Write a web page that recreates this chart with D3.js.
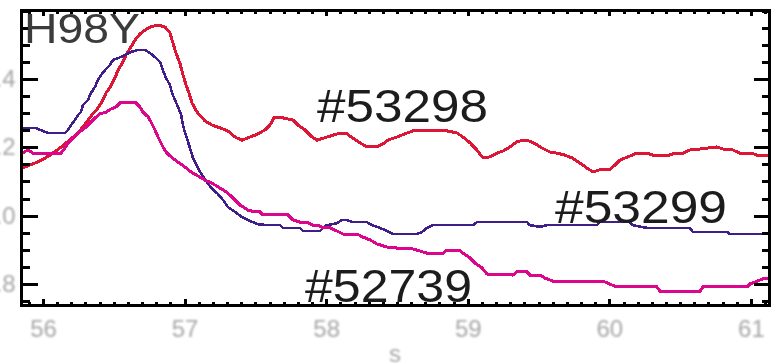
<!DOCTYPE html>
<html>
<head>
<meta charset="utf-8">
<script src="https://cdn.jsdelivr.net/npm/d3@7"></script>
<style>
  html, body { margin: 0; padding: 0; background: #fff; }
  svg { display: block; }
</style>
</head>
<body>
<svg id="chart" width="777" height="363"></svg>
<script>
// Shot traces of s against the signal, three discharges
const red53298X = [55.852,55.944,55.993,56.049,56.12,56.177,56.24,56.297,56.346,56.388,56.424,56.445,56.48,56.508,56.53,56.565,56.586,56.621,56.65,56.685,56.72,56.756,56.812,56.862,56.897,56.918,56.939,56.968,56.989,57.01,57.031,57.052,57.088,57.144,57.194,57.25,57.306,57.356,57.405,57.462,57.518,57.568,57.603,57.631,57.695,57.766,57.801,57.85,57.9,57.935,58.006,58.076,58.147,58.189,58.239,58.288,58.359,58.401,58.436,58.5,58.571,58.613,58.733,58.853,58.924,58.966,59.016,59.065,59.107,59.157,59.206,59.249,59.298,59.347,59.39,59.439,59.489,59.524,59.581,59.63,59.686,59.736,59.792,59.842,59.884,59.948,60.004,60.04,60.075,60.131,60.195,60.266,60.322,60.407,60.463,60.52,60.569,60.64,60.76,60.802,60.873,60.922,61.007,61.042,61.134];
const red53298Y = [1.139,1.154,1.163,1.177,1.198,1.218,1.239,1.268,1.295,1.315,1.339,1.359,1.380,1.403,1.426,1.450,1.470,1.494,1.514,1.532,1.543,1.552,1.558,1.552,1.535,1.505,1.476,1.444,1.412,1.382,1.359,1.330,1.303,1.277,1.265,1.257,1.248,1.230,1.221,1.230,1.239,1.251,1.265,1.286,1.286,1.280,1.265,1.251,1.230,1.221,1.230,1.239,1.239,1.227,1.213,1.201,1.201,1.210,1.221,1.230,1.242,1.248,1.248,1.248,1.242,1.230,1.213,1.192,1.169,1.172,1.183,1.189,1.201,1.216,1.221,1.218,1.207,1.198,1.186,1.183,1.177,1.169,1.154,1.139,1.128,1.136,1.136,1.148,1.163,1.172,1.183,1.183,1.175,1.175,1.183,1.183,1.192,1.195,1.201,1.195,1.192,1.183,1.183,1.177,1.175];

const purple53299X = [55.852,55.944,55.979,56.035,56.155,56.177,56.198,56.226,56.247,56.268,56.282,56.318,56.339,56.367,56.388,56.41,56.438,56.473,56.494,56.53,56.579,56.621,56.671,56.72,56.756,56.791,56.826,56.847,56.869,56.897,56.911,56.932,56.953,56.975,56.989,57.003,57.024,57.038,57.059,57.081,57.109,57.144,57.172,57.201,57.229,57.271,57.306,57.356,57.405,57.462,57.518,57.582,57.674,57.695,57.815,57.836,57.956,57.992,58.076,58.112,58.147,58.182,58.288,58.323,58.38,58.429,58.472,58.641,58.677,58.712,58.754,59.037,59.065,59.418,59.439,59.51,59.559,59.912,59.934,60.145,60.167,60.266,60.569,60.59,60.831,60.852,61.134];
const purple53299Y = [1.257,1.257,1.251,1.242,1.242,1.251,1.265,1.280,1.295,1.303,1.324,1.339,1.359,1.377,1.397,1.412,1.426,1.441,1.456,1.461,1.470,1.479,1.485,1.485,1.476,1.464,1.450,1.426,1.403,1.382,1.359,1.339,1.318,1.295,1.265,1.242,1.216,1.198,1.169,1.151,1.128,1.107,1.090,1.075,1.066,1.046,1.025,1.011,0.996,0.984,0.975,0.972,0.972,0.964,0.964,0.955,0.955,0.970,0.978,0.987,0.987,0.981,0.981,0.972,0.964,0.955,0.946,0.946,0.952,0.964,0.972,0.972,0.981,0.981,0.972,0.967,0.972,0.972,0.981,0.981,0.972,0.964,0.964,0.952,0.952,0.946,0.946];

const magenta52739X = [55.852,55.894,55.929,56.127,56.155,56.177,56.212,56.247,56.297,56.332,56.367,56.403,56.445,56.48,56.516,56.544,56.6,56.657,56.685,56.706,56.742,56.763,56.791,56.812,56.847,56.869,56.904,56.953,57.003,57.045,57.095,57.144,57.194,57.236,57.285,57.321,57.356,57.391,57.448,57.497,57.532,57.554,57.73,57.766,57.815,57.864,57.907,57.942,57.977,58.027,58.076,58.119,58.218,58.26,58.309,58.359,58.429,58.5,58.592,58.641,58.712,58.825,58.853,58.945,58.966,59.016,59.051,59.1,59.136,59.319,59.347,59.418,59.439,59.51,59.545,59.602,59.955,59.983,60.054,60.336,60.357,60.64,60.661,60.852,60.972,60.993,61.042,61.099,61.134];
const magenta52739Y = [1.183,1.192,1.183,1.183,1.198,1.213,1.227,1.242,1.257,1.271,1.286,1.298,1.303,1.312,1.318,1.330,1.330,1.330,1.318,1.303,1.289,1.274,1.251,1.230,1.201,1.186,1.172,1.157,1.142,1.128,1.116,1.104,1.095,1.084,1.072,1.060,1.046,1.031,1.016,1.011,1.011,1.002,1.002,0.987,0.981,0.981,0.972,0.972,0.964,0.964,0.955,0.946,0.946,0.937,0.929,0.917,0.908,0.905,0.905,0.899,0.890,0.890,0.899,0.899,0.890,0.876,0.861,0.847,0.829,0.826,0.835,0.835,0.826,0.826,0.817,0.808,0.808,0.803,0.791,0.791,0.779,0.779,0.791,0.791,0.791,0.800,0.808,0.817,0.817];

// Axis ticks and labels
const xMajorTicks = [56, 57, 58, 59, 60, 61];
const xTickLabels = ["56", "57", "58", "59", "60", "61"];
const xMinorTicks = [55.9,56.1,56.2,56.3,56.4,56.5,56.6,56.7,56.8,56.9,57.1,57.2,57.3,57.4,57.5,57.6,57.7,57.8,57.9,58.1,58.2,58.3,58.4,58.5,58.6,58.7,58.8,58.9,59.1,59.2,59.3,59.4,59.5,59.6,59.7,59.8,59.9,60.1,60.2,60.3,60.4,60.5,60.6,60.7,60.8,60.9,61.1];
const yMajorTicks = [0.8, 1.0, 1.2, 1.4];
const yTickLabels = ["0.8", "1.0", "1.2", "1.4"];
const yMinorTicks = [0.75,0.85,0.9,0.95,1.05,1.1,1.15,1.25,1.3,1.35,1.45,1.5,1.55,1.6];

const seriesNames = ["#53298", "#53299", "#52739"];
const seriesColors = ["#dc1634", "#3f1e8a", "#dc068c"];

const svg = d3.select("#chart");
const frameLeft = 21.5, frameRight = 769.5, frameTop = 10, frameBottom = 305.5;

const x = d3.scaleLinear().domain([55.848, 61.131]).range([frameLeft, frameRight]);
const y = d3.scaleLinear().domain([0.7368, 1.602]).range([frameBottom, frameTop]);

const defs = svg.append("defs");
defs.append("clipPath").attr("id", "plotClip")
  .append("rect").attr("x", frameLeft).attr("y", frameTop)
  .attr("width", frameRight - frameLeft).attr("height", frameBottom - frameTop);
defs.append("filter").attr("id", "soft")
  .append("feGaussianBlur").attr("stdDeviation", 0.55);
defs.append("filter").attr("id", "softer")
  .append("feGaussianBlur").attr("stdDeviation", 0.8);

const font = "'Liberation Sans', Arial, sans-serif";

// Curves
const series = [
  { xs: red53298X, ys: red53298Y, width: 3 },
  { xs: purple53299X, ys: purple53299Y, width: 2.6 },
  { xs: magenta52739X, ys: magenta52739Y, width: 3 }
];
const line = d3.line().x(d => x(d[0])).y(d => y(d[1]));
const plot = svg.append("g").attr("clip-path", "url(#plotClip)");
series.forEach((s, i) => {
  plot.append("path")
    .datum(d3.zip(s.xs, s.ys))
    .attr("d", line)
    .attr("fill", "none")
    .attr("stroke", seriesColors[i])
    .attr("stroke-width", s.width)
    .attr("stroke-linejoin", "miter")
    .attr("shape-rendering", "crispEdges");
});

// Frame ticks (inward on all four sides)
function styleAxis(g) {
  g.select(".domain").remove();
  g.selectAll(".tick line").attr("stroke", "#000").attr("stroke-width", 3)
    .attr("shape-rendering", "crispEdges");
  g.selectAll(".tick text").attr("fill", "#a6a6a6")
    .attr("font-family", font).attr("font-size", 24)
    .attr("filter", "url(#softer)");
}
const xLabel = d3.scaleOrdinal().domain(xMajorTicks).range(xTickLabels);
const yLabel = d3.scaleOrdinal().domain(yMajorTicks).range(yTickLabels);

svg.append("g").attr("transform", `translate(0,${frameBottom})`)
  .call(d3.axisBottom(x).tickValues(xMajorTicks).tickSize(-7).tickPadding(14).tickFormat(d => xLabel(d)))
  .call(styleAxis);
svg.append("g").attr("transform", `translate(0,${frameBottom})`)
  .call(d3.axisBottom(x).tickValues(xMinorTicks).tickSize(-4).tickFormat(""))
  .call(styleAxis);
svg.append("g").attr("transform", `translate(0,${frameTop})`)
  .call(d3.axisTop(x).tickValues(xMajorTicks).tickSize(-6).tickFormat(""))
  .call(styleAxis);
svg.append("g").attr("transform", `translate(0,${frameTop})`)
  .call(d3.axisTop(x).tickValues(xMinorTicks).tickSize(-3.5).tickFormat(""))
  .call(styleAxis);
svg.append("g").attr("transform", `translate(${frameLeft},0)`)
  .call(d3.axisLeft(y).tickValues(yMajorTicks).tickSize(-16).tickPadding(6).tickFormat(d => yLabel(d)))
  .call(styleAxis);
svg.append("g").attr("transform", `translate(${frameLeft},0)`)
  .call(d3.axisLeft(y).tickValues(yMinorTicks).tickSize(-8.5).tickFormat(""))
  .call(styleAxis);
svg.append("g").attr("transform", `translate(${frameRight},0)`)
  .call(d3.axisRight(y).tickValues(yMajorTicks).tickSize(-16).tickFormat(""))
  .call(styleAxis);
svg.append("g").attr("transform", `translate(${frameRight},0)`)
  .call(d3.axisRight(y).tickValues(yMinorTicks).tickSize(-8).tickFormat(""))
  .call(styleAxis);

// Frame
svg.append("rect")
  .attr("x", frameLeft).attr("y", frameTop)
  .attr("width", frameRight - frameLeft).attr("height", frameBottom - frameTop)
  .attr("fill", "none").attr("stroke", "#000").attr("stroke-width", 3)
  .attr("shape-rendering", "crispEdges");

// Axis label
svg.append("text")
  .attr("x", 395).attr("y", 362)
  .attr("text-anchor", "middle")
  .attr("font-family", font).attr("font-size", 24)
  .attr("fill", "#a6a6a6").attr("filter", "url(#softer)")
  .text("s");

// Panel title and series labels
svg.append("text")
  .attr("x", 24).attr("y", 43)
  .attr("font-family", font).attr("font-size", 43)
  .attr("fill", "#3a3a3a").attr("filter", "url(#soft)")
  .attr("textLength", 116).attr("lengthAdjust", "spacingAndGlyphs")
  .text("H98Y");

const seriesLabels = [
  { x: 317, y: 122, w: 171 },
  { x: 555, y: 223, w: 172 },
  { x: 305, y: 302, w: 167 }
];
seriesLabels.forEach((p, i) => {
  svg.append("text")
    .attr("x", p.x).attr("y", p.y)
    .attr("font-family", font).attr("font-size", 47)
    .attr("fill", "#1c1c1c").attr("filter", "url(#soft)")
    .attr("textLength", p.w).attr("lengthAdjust", "spacingAndGlyphs")
    .text(seriesNames[i]);
});
</script>
</body>
</html>
